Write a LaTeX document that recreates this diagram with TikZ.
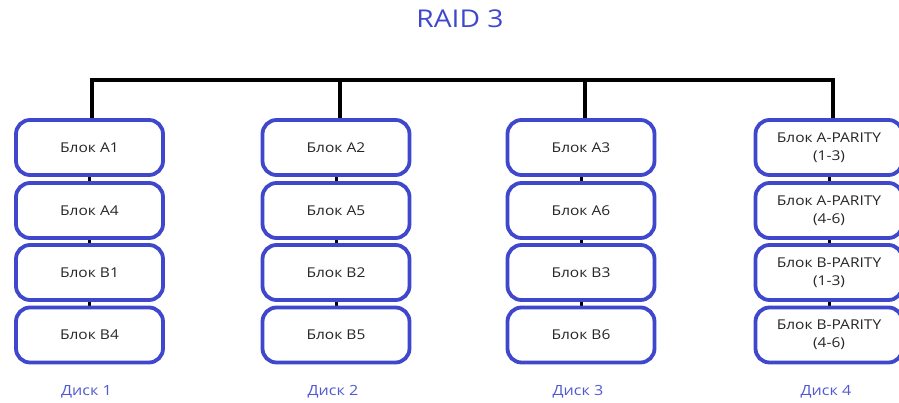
\documentclass[tikz,border=0pt]{standalone}
\usepackage{fontspec}
\setmainfont{Open Sans}[FakeStretch=1.15]
\begin{document}
\begin{tikzpicture}[x=1pt,y=-1pt,
  blk/.style={draw=diskblue, line width=3.8pt, rounded corners=14pt, fill=white,
    minimum width=147pt, minimum height=55pt, align=center,
    font=\fontsize{13.5}{18}\selectfont, text=black!85, inner sep=0pt},
  lbl/.style={font=\fontsize{14}{16}\selectfont, text=labelblue},
  bus/.style={line width=3.6pt, black},
  link/.style={line width=3pt, black}]
\definecolor{diskblue}{RGB}{63,72,204}
\definecolor{labelblue}{RGB}{80,88,210}
\useasboundingbox (0,0) rectangle (899,403);
\node[font=\fontsize{24.5}{28}\selectfont, text=diskblue] (title) at (460,19) {RAID 3};
% bus points above each disk
\coordinate (t1) at (92,80);
\coordinate (t2) at (340,80);
\coordinate (t3) at (585,80);
\coordinate (t4) at (833,80);
\draw[bus, line cap=rect] (t1) -- (t4);
% disk columns
\foreach \c/\x/\a/\b/\cc/\d in {
  1/89.5/{Блок A1}/{Блок A4}/{Блок B1}/{Блок B4},
  2/336/{Блок A2}/{Блок A5}/{Блок B2}/{Блок B5},
  3/581/{Блок A3}/{Блок A6}/{Блок B3}/{Блок B6},
  4/829/{Блок A-PARITY\\(1-3)}/{Блок A-PARITY\\(4-6)}/{Блок B-PARITY\\(1-3)}/{Блок B-PARITY\\(4-6)}} {
  \draw[bus] (t\c) -- ++(0,42) coordinate (v\c);
  \draw[link] (\x,147.5) -- (\x,335);
  \node[blk] (b\c1) at (\x,147.5) {\a};
  \node[blk] (b\c2) at (\x,210.5) {\b};
  \node[blk] (b\c3) at (\x,272.5) {\cc};
  \node[blk] (b\c4) at (\x,335) {\d};
  \node[lbl] (d\c) at (\x-3,392) {Диск \c};
}
\end{tikzpicture}
\end{document}
